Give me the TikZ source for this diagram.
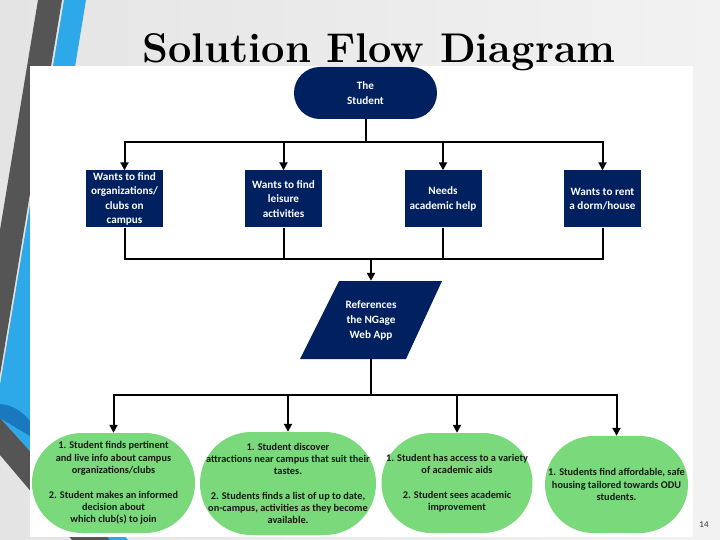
\documentclass[tikz,border=0pt]{standalone}
\usepackage{fontspec}
\newfontfamily\diag{Carlito}
\usetikzlibrary{arrows.meta}
\definecolor{navyc}{HTML}{002060}
\definecolor{greenc}{RGB}{122,217,122}
\definecolor{gtext}{RGB}{25,25,25}
\definecolor{darkstripe}{RGB}{85,85,85}
\definecolor{bluestripe}{RGB}{45,168,232}
\definecolor{swooshc}{RGB}{25,120,190}
\definecolor{bgl}{RGB}{228,228,228}
\definecolor{bgr}{RGB}{242,242,242}
\begin{document}
\begin{tikzpicture}[x=1pt,y=-1pt,
  navybox/.style={fill=navyc, text=white, font=\diag\bfseries\fontsize{11.2}{14.3}\selectfont, align=center, inner sep=0pt, minimum width=77pt, minimum height=57pt},
  greenbox/.style={fill=greenc, text=gtext, font=\diag\bfseries\fontsize{10.3}{12.3}\selectfont, align=center, inner sep=0pt},
  line/.style={draw=black, line width=2pt},
  arr/.style={line, -{Triangle[width=8pt,length=8pt]}}]
\useasboundingbox (0,0) rectangle (720,540);
% slide background
\shade[left color=bgl, right color=bgr] (0,0) rectangle (720,540);
% decorative stripes
\fill[darkstripe] (38,0) -- (62,0) -- (0,375) -- (0,230) -- cycle;
\fill[bluestripe] (64,0) -- (86,0) -- (40,280) -- (40,440) -- (128,540) -- (110,540) -- (0,418) -- (0,385) -- cycle;
\fill[swooshc] (0,404) .. controls (12,405) and (22,411) .. (30,421) -- (30,436) -- (0,418) -- cycle;
\fill[darkstripe] (0,418) -- (110,540) -- (72,540) -- (0,455) -- cycle;
% white picture area
\fill[white] (30,66) rectangle (693,537);
% title
\node[anchor=base, font=\bfseries\fontsize{41.5}{44}\selectfont] (title) at (379,62.5) {Solution Flow Diagram};
% start
\node[fill=navyc, text=white, font=\diag\bfseries\fontsize{11.2}{14.3}\selectfont, align=center, inner sep=0pt, minimum width=143pt, minimum height=52pt, rounded corners=25.9pt] (stu) at (365.5,93) {The\\Student};
% needs
\node[navybox] (b1) at (124.5,199) {Wants to find\\organizations/\\clubs on\\campus};
\node[navybox] (b2) at (283.5,199) {Wants to find\\leisure\\activities};
\node[navybox] (b3) at (443,199) {Needs\\academic help};
\node[navybox] (b4) at (602.5,199) {Wants to rent\\a dorm/house};
% parallelogram
\fill[navyc] (339,281) -- (442,281) -- (406,359) -- (300,359) -- cycle;
\node[text=white, font=\diag\bfseries\fontsize{11.2}{15}\selectfont, align=center, inner sep=0pt, minimum width=142pt, minimum height=78pt] (ref) at (371,320) {References\\the NGage\\Web App};
% outcomes
\node[greenbox, minimum width=163pt, minimum height=100pt, rounded corners=49.9pt] (g1) at (113.5,483) {1. Student finds pertinent\\and live info about campus\\organizations/clubs\\[12.3pt]2. Student makes an informed\\decision about\\which club(s) to join};
\node[greenbox, minimum width=176pt, minimum height=103pt, rounded corners=51.4pt] (g2) at (288,483.5) {1. Student discover\\attractions near campus that suit their\\tastes.\\[12.3pt]2. Students finds a list of up to date,\\on-campus, activities as they become\\available.};
\node[greenbox, minimum width=151pt, minimum height=100pt, rounded corners=49.9pt] (g3) at (457,483) {1. Student has access to a variety\\of academic aids\\[12.3pt]2. Student sees academic\\improvement};
\node[greenbox, minimum width=143pt, minimum height=97pt, rounded corners=48.4pt] (g4) at (616.5,484.5) {1. Students find affordable, safe\\housing tailored towards ODU\\students.};
% connectors
\coordinate (j1) at (365.5,142);
\coordinate (j2) at (371,259);
\coordinate (j3) at (371,395);
\draw[line] (stu.south) -- (j1);
\draw[arr] (j1) -| (b1.north);
\draw[arr] (j1) -| (b2.north);
\draw[arr] (j1) -| (b3.north);
\draw[arr] (j1) -| (b4.north);
\draw[line] (b1.south) |- (j2);
\draw[line] (b2.south) |- (j2);
\draw[line] (b3.south) |- (j2);
\draw[line] (b4.south) |- (j2);
\draw[arr] (j2) -- (ref.north);
\draw[line] (ref.south) -- (j3);
\draw[arr] (j3) -| (g1.north);
\draw[arr] (j3) -| (g2.north);
\draw[arr] (j3) -| (g3.north);
\draw[arr] (j3) -| (g4.north);
% page number
\node[font=\diag\fontsize{9}{10}\selectfont, text=black!80] (pg) at (704,525) {14};
\end{tikzpicture}
\end{document}
